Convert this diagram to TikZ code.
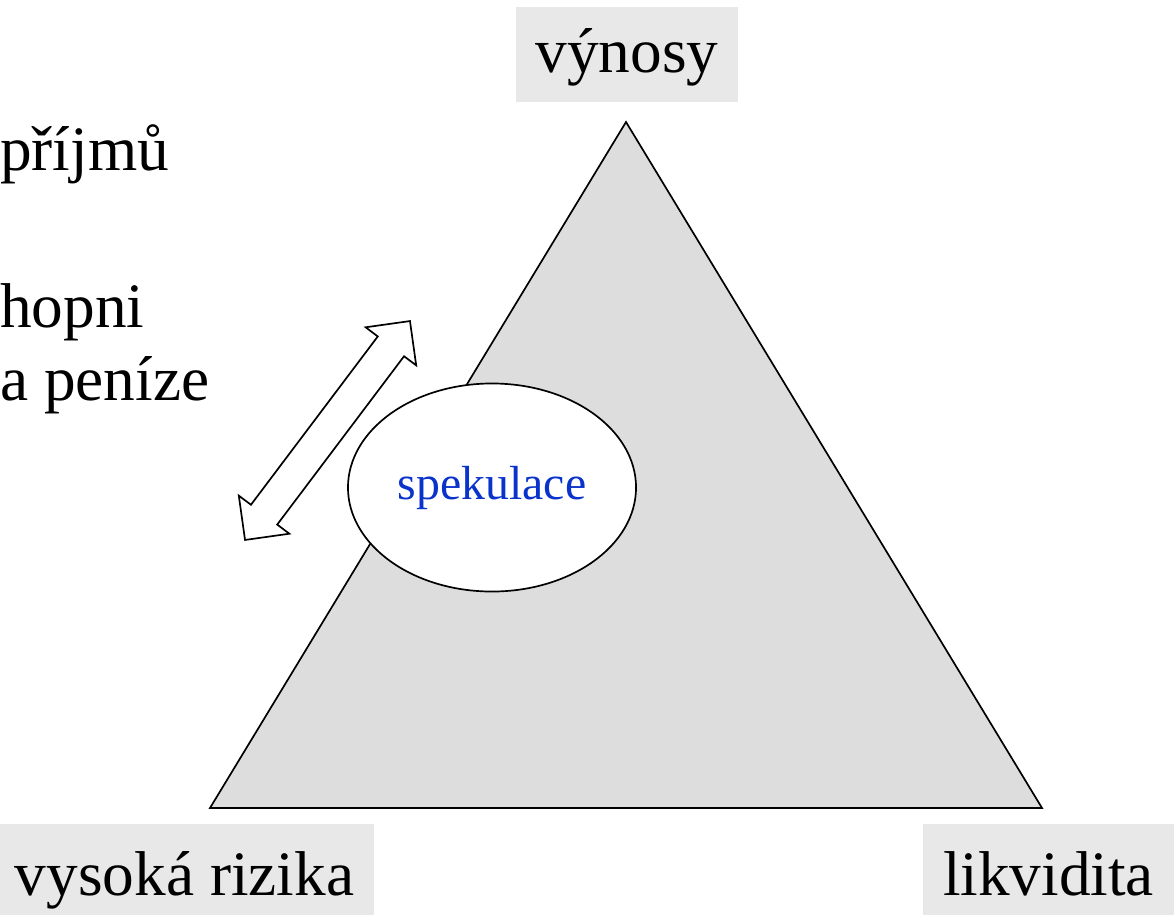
\documentclass[tikz,border=0pt]{standalone}
\usepackage{fontspec}
\setmainfont{Liberation Serif}
\usetikzlibrary{shapes.geometric,shapes.arrows}
\definecolor{boxgray}{RGB}{232,232,232}
\definecolor{trigray}{RGB}{221,221,221}
\definecolor{specblue}{RGB}{10,51,204}
\begin{document}
\begin{tikzpicture}[x=0.025cm,y=-0.025cm]
  \tikzstyle{corner}=[fill=boxgray,inner xsep=0.5cm,inner ysep=0pt,font=\fontsize{45}{54}\selectfont,text height=34pt,text depth=9pt]
  \tikzstyle{side}=[anchor=base west,inner sep=0pt,font=\fontsize{45}{54}\selectfont]
  \tikzstyle{bubble}=[ellipse,draw,fill=white,line width=1.2pt,inner sep=0pt,text=specblue,font=\fontsize{34}{40}\selectfont]
  \tikzstyle{swap}=[double arrow,draw,fill=white,line width=1.2pt,inner xsep=0pt,inner ysep=0.39cm,double arrow head extend=0.38cm]
  \useasboundingbox (0,0) rectangle (1174,914);
  \clip (0,0) rectangle (1174,914);
  % triangle
  \coordinate (top)   at (626,122);
  \coordinate (left)  at (210,808);
  \coordinate (right) at (1042,808);
  \draw[fill=trigray,line width=1.2pt,line join=miter] (top) -- (left) -- (right) -- cycle;
  % corner labels
  \node[corner,minimum height=2.375cm] (vynosy)    at (627,54.5)    {výnosy};
  \node[corner,minimum height=2.68cm]  (rizika)    at (184.5,877.6) {vysoká rizika};
  \node[corner,minimum height=2.68cm]  (likvidita) at (1048.5,877.6) {likvidita};
  % text cut at the left edge
  \node[side] (prijmu) at (0,170) {příjmů};
  \node[side] (hopni)  at (0,327) {hopni};
  \node[side] (penize) at (0,400) {a peníze};
  \node[bubble,minimum width=7.2cm,minimum height=5.2cm] (spekulace) at (492,487.5) {spekulace};
  \node[swap,minimum height=6.85cm,rotate=53] (sipka) at (327.5,430.5) {};
\end{tikzpicture}
\end{document}
